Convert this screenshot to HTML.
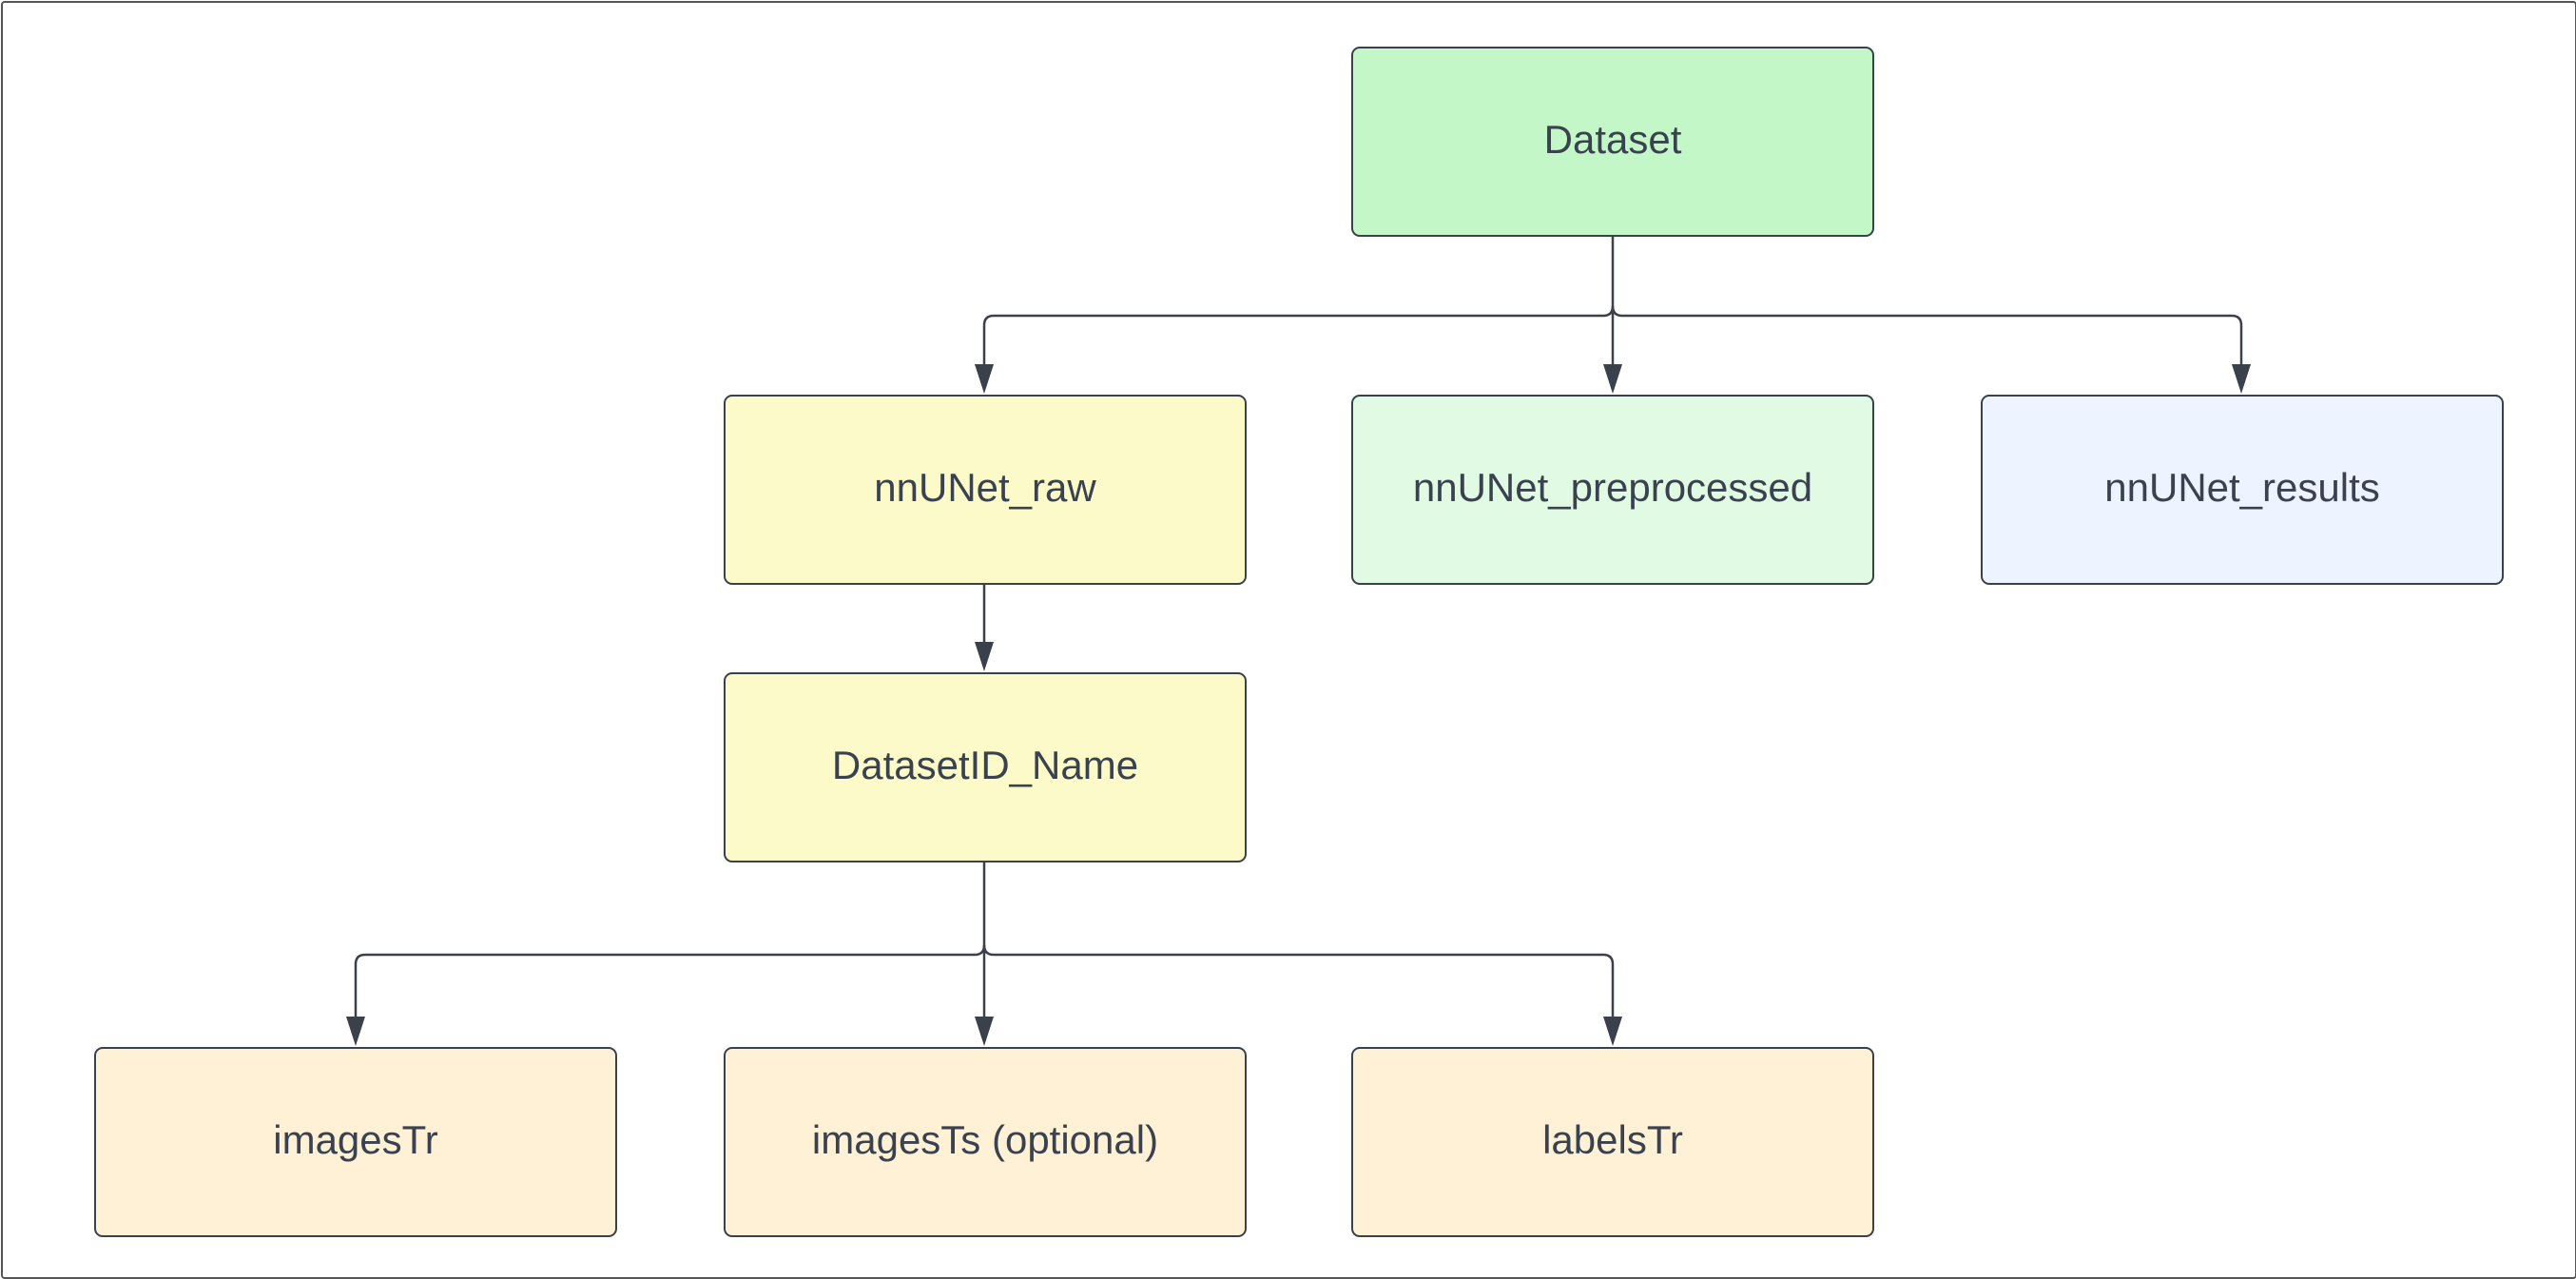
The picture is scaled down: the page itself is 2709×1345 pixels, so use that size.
<!DOCTYPE html>
<html><head><meta charset="utf-8"><style>
html,body{margin:0;padding:0;background:#fff;}
body{width:2709px;height:1344px;position:relative;overflow:hidden;font-family:"Liberation Sans",sans-serif;}
.b{position:absolute;width:546px;height:196px;border:2px solid #3a414a;border-radius:9px;display:flex;align-items:center;justify-content:center;font-size:42px;color:#39424e;box-sizing:content-box;}
.b span{position:relative;top:-2px;}
</style></head><body>
<div style="position:absolute;left:1px;top:1px;width:2705px;height:1340px;border:2px solid #555;border-radius:4px;"></div>
<svg width="2709" height="1344" style="position:absolute;left:0;top:0" fill="none" stroke="#3a414a" stroke-width="2.5">
<path d="M1696 249 V322 Q1696 332 1686 332 H1045 Q1035 332 1035 342 V386"/>
<path d="M1696 322 Q1696 332 1706 332 H2347 Q2357 332 2357 342 V386"/>
<path d="M1696 322 V386"/>
<path d="M1035 613 V678"/>
<path d="M1035 906 V994 Q1035 1004 1025 1004 H384 Q374 1004 374 1014 V1072"/>
<path d="M1035 994 Q1035 1004 1045 1004 H1686 Q1696 1004 1696 1014 V1072"/>
<path d="M1035 994 V1072"/>
<g fill="#3a414a" stroke="none">
<path d="M1025 383 L1045 383 L1035 414 Z"/>
<path d="M1686 383 L1706 383 L1696 414 Z"/>
<path d="M2347 383 L2367 383 L2357 414 Z"/>
<path d="M1025 675 L1045 675 L1035 706 Z"/>
<path d="M364 1069 L384 1069 L374 1100 Z"/>
<path d="M1025 1069 L1045 1069 L1035 1100 Z"/>
<path d="M1686 1069 L1706 1069 L1696 1100 Z"/>
</g>
</svg>
<div class="b" style="left:1421px;top:49px;background:#c3f7c8;"><span>Dataset</span></div>
<div class="b" style="left:761px;top:415px;background:#fbfac8;"><span>nnUNet_raw</span></div>
<div class="b" style="left:1421px;top:415px;background:#e1fae3;"><span>nnUNet_preprocessed</span></div>
<div class="b" style="left:2083px;top:415px;background:#edf4ff;"><span>nnUNet_results</span></div>
<div class="b" style="left:761px;top:707px;background:#fbfac8;"><span>DatasetID_Name</span></div>
<div class="b" style="left:99px;top:1101px;background:#fff1d6;"><span>imagesTr</span></div>
<div class="b" style="left:761px;top:1101px;background:#fff1d6;"><span>imagesTs (optional)</span></div>
<div class="b" style="left:1421px;top:1101px;background:#fff1d6;"><span>labelsTr</span></div>
</body></html>
